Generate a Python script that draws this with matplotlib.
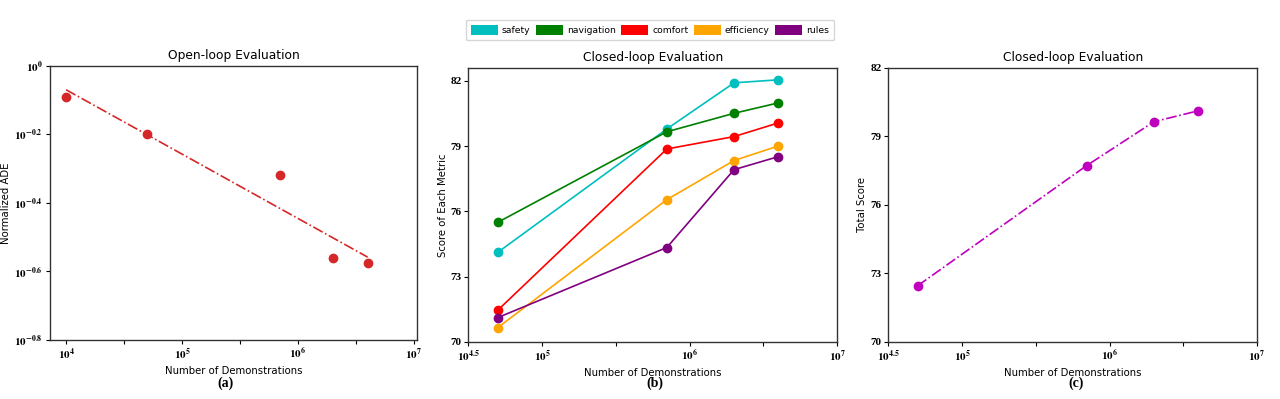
import numpy as np
import matplotlib
matplotlib.use('Agg')
import matplotlib.pyplot as plt
from matplotlib.patches import Patch
from matplotlib.ticker import FixedLocator, NullFormatter, NullLocator

#==========================================================
# data
#==========================================================
# (a) open-loop
ol_demos = [1e4, 5e4, 7e5, 2e6, 4e6]
ol_ade = [0.809, 0.631, 0.479, 0.275, 0.266]

# (b) closed-loop metrics
cl_demos = [5e4, 7e5, 2e6, 4e6]
metric_names = ['safety', 'navigation', 'comfort', 'efficiency', 'rules']
metric_colors = ['c', 'g', 'r', 'orange', 'purple']
safety = [74.12, 79.79, 81.91, 82.05]
navigation = [75.50, 79.66, 80.51, 80.99]
comfort = [71.46, 78.87, 79.44, 80.07]
efficiency = [70.66, 76.54, 78.34, 79.01]
rules = [71.12, 74.34, 77.92, 78.52]
metrics = [safety, navigation, comfort, efficiency, rules]

# (c) closed-loop total
total_score = [72.46, 77.72, 79.64, 80.12]

score_ticks = [70, 73, 76, 79, 82]

#==========================================================
# plot
#==========================================================
plt.rcParams['mathtext.fontset'] = 'stix'
tick_font = {'family': 'Liberation Serif', 'weight': 'bold', 'size': 8}
lab_size = 7.3
title_size = 8.8
ms = 6

fig = plt.figure(figsize=(12.8, 3.99), dpi=100)
ax1 = fig.add_axes([0.039, 0.148, 0.287, 0.687])
ax2 = fig.add_axes([0.366, 0.143, 0.288, 0.687])
ax3 = fig.add_axes([0.694, 0.143, 0.288, 0.687])


def style(ax):
    for s in ax.spines.values():
        s.set_color('#333333')
        s.set_linewidth(1.0)
    ax.tick_params(which='both', direction='out', length=3, width=0.8, pad=2)


def log_label(p):
    return r'$\mathbf{10^{%g}}$' % p


# ---------------- (a)
ax1.set_xscale('log')
ax1.set_yscale('log')
ax1.plot(ol_demos, ol_ade, 'o', color='tab:red', markersize=ms, zorder=5)
lx = np.log10(ol_demos)
ly = np.log10(ol_ade)
coef = np.polyfit(lx, ly, 1)
ax1.plot(ol_demos, 10**np.polyval(coef, lx), '-.', color='tab:red', linewidth=1.2)
ax1.set_xlim(10**3.86, 10**7.03)
ax1.set_ylim(10**-0.8, 1)
xp = [4, 5, 6, 7]
ax1.xaxis.set_major_locator(FixedLocator([10.0**p for p in xp]))
ax1.set_xticklabels([log_label(p) for p in xp])
ax1.xaxis.set_minor_locator(FixedLocator([10**4.5, 10**5.5, 10**6.5]))
ax1.xaxis.set_minor_formatter(NullFormatter())
yp = [0, -0.2, -0.4, -0.6, -0.8]
ax1.yaxis.set_major_locator(FixedLocator([10.0**p for p in yp]))
ax1.set_yticklabels([log_label(p) for p in yp])
ax1.yaxis.set_minor_locator(NullLocator())
ax1.set_title('Open-loop Evaluation', fontsize=title_size, pad=5)
ax1.set_ylabel('Normalized ADE', fontsize=lab_size, labelpad=2)
ax1.set_xlabel('Number of Demonstrations', fontsize=lab_size, labelpad=3)
style(ax1)

# ---------------- (b) and (c)
xp2 = [4.5, 5, 6, 7]
for ax in [ax2, ax3]:
    ax.set_xscale('log')
    ax.set_xlim(10**4.5, 10**7)
    ax.xaxis.set_major_locator(FixedLocator([10.0**p for p in xp2]))
    ax.set_xticklabels([log_label(p) for p in xp2])
    ax.xaxis.set_minor_locator(FixedLocator([10**5.5, 10**6.5]))
    ax.xaxis.set_minor_formatter(NullFormatter())
    ax.set_yticks(score_ticks)
    ax.set_xlabel('Number of Demonstrations', fontsize=lab_size, labelpad=3)
    ax.set_title('Closed-loop Evaluation', fontsize=title_size, pad=5)
    style(ax)

for vals, c in zip(metrics, metric_colors):
    ax2.plot(cl_demos, vals, '-o', color=c, linewidth=1.2, markersize=ms)
ax2.set_ylim(70, 82.6)
ax2.set_ylabel('Score of Each Metric', fontsize=lab_size, labelpad=2)

ax3.plot(cl_demos, total_score, '-.o', color='m', linewidth=1.2, markersize=ms)
ax3.set_ylim(70, 82)
ax3.set_ylabel('Total Score', fontsize=lab_size, labelpad=2)

for ax in [ax1, ax2, ax3]:
    for t in ax.get_xticklabels() + ax.get_yticklabels():
        t.set_fontproperties(tick_font)

handles = [Patch(facecolor=c, edgecolor='none') for c in metric_colors]
fig.legend(handles, metric_names, loc='center', bbox_to_anchor=(650/1280, 1-30/399),
           ncol=5, fontsize=6.7, handlelength=2.9, handleheight=1.4, columnspacing=0.6,
           handletextpad=0.4, borderpad=0.55, frameon=True, fancybox=True, edgecolor='#cccccc')

for xc, cap in zip([225, 655, 1076], ['(a)', '(b)', '(c)']):
    fig.text(xc/1280, 1-383/399, cap, ha='center', va='center',
             fontfamily='Liberation Serif', fontweight='bold', fontsize=10)

plt.savefig('out.png', dpi=100)
plt.close()
